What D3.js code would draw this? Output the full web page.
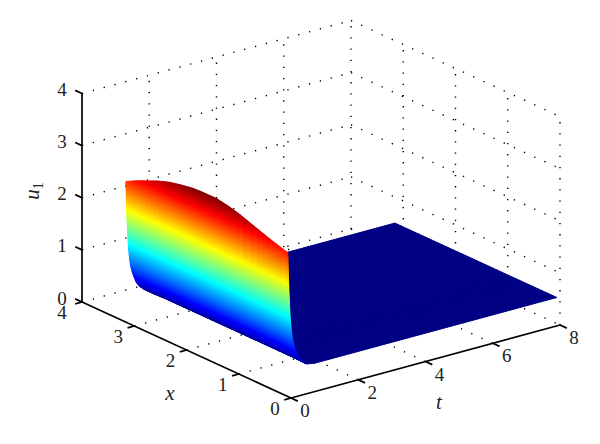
<!DOCTYPE html>
<html>
<head>
<meta charset="utf-8">
<script src="https://cdn.jsdelivr.net/npm/d3@7"></script>
<style>
body { margin: 0; background: #fff; }
text { font-family: "Liberation Serif", serif; font-size: 19px; fill: #222; }
</style>
</head>
<body>
<div id="chart"></div>
<script>
var xTicks = [0, 1, 2, 3, 4];
var tTicks = [0, 2, 4, 6, 8];
var uTicks = [0, 1, 2, 3, 4];

// surface, one row per xGrid value, one column per tGrid value
var tGrid = [0, 0.02, 0.04, 0.07, 0.1, 0.14, 0.2, 0.3, 0.4, 0.55, 0.8, 8];
var xGrid = [0.06, 0.33, 0.59, 0.98, 1.2, 1.42, 1.65, 1.87, 2.1, 2.32, 2.55, 2.77, 2.97, 3.16];
var uGrid = [
  [2.76, 2.22, 1.90, 1.49, 1.27, 1.07, 0.91, 0.73, 0.62, 0.53, 0.5, 0.5],
  [2.84, 2.28, 1.95, 1.53, 1.30, 1.09, 0.92, 0.73, 0.63, 0.54, 0.5, 0.5],
  [2.93, 2.35, 2.01, 1.57, 1.33, 1.11, 0.94, 0.74, 0.63, 0.54, 0.5, 0.5],
  [3.07, 2.45, 2.09, 1.63, 1.37, 1.14, 0.96, 0.76, 0.64, 0.54, 0.5, 0.5],
  [3.13, 2.50, 2.13, 1.66, 1.39, 1.16, 0.97, 0.76, 0.64, 0.54, 0.5, 0.5],
  [3.17, 2.53, 2.16, 1.67, 1.41, 1.17, 0.98, 0.77, 0.65, 0.54, 0.5, 0.5],
  [3.17, 2.53, 2.16, 1.67, 1.41, 1.17, 0.98, 0.77, 0.65, 0.54, 0.5, 0.5],
  [3.16, 2.52, 2.15, 1.67, 1.40, 1.17, 0.98, 0.77, 0.65, 0.54, 0.5, 0.5],
  [3.12, 2.49, 2.12, 1.65, 1.39, 1.16, 0.97, 0.76, 0.64, 0.54, 0.5, 0.5],
  [3.07, 2.45, 2.09, 1.63, 1.37, 1.14, 0.96, 0.76, 0.64, 0.54, 0.5, 0.5],
  [2.99, 2.39, 2.04, 1.60, 1.35, 1.12, 0.95, 0.75, 0.64, 0.54, 0.5, 0.5],
  [2.89, 2.32, 1.98, 1.55, 1.31, 1.10, 0.93, 0.74, 0.63, 0.54, 0.5, 0.5],
  [2.80, 2.25, 1.93, 1.51, 1.28, 1.08, 0.91, 0.73, 0.63, 0.53, 0.5, 0.5],
  [2.70, 2.17, 1.86, 1.47, 1.25, 1.05, 0.90, 0.72, 0.62, 0.53, 0.5, 0.5]
];

var width = 600;
var height = 444;

var svg = d3.select("#chart").append("svg")
    .attr("width", width).attr("height", height)
    .style("display", "block");

// oblique projection: each data axis moves the screen point along its own direction
var xToPx = d3.scaleLinear().domain([0, 4]).range([291, 82]);
var xToPy = d3.scaleLinear().domain([0, 4]).range([398, 302]);
var tToPx = d3.scaleLinear().domain([0, 8]).range([0, 269]);
var tToPy = d3.scaleLinear().domain([0, 8]).range([0, -73]);
var uToPy = d3.scaleLinear().domain([0, 4]).range([0, -208.5]);

function project(x, t, u) {
  return [xToPx(x) + tToPx(t), xToPy(x) + tToPy(t) + uToPy(u)];
}

var line = d3.line();

// MATLAB jet
var jet = d3.scaleLinear()
    .domain([0, 1 / 8, 3 / 8, 5 / 8, 7 / 8, 1])
    .range(["#000084", "#0000ff", "#00ffff", "#ffff00", "#ff0000", "#800000"])
    .clamp(true);
var colorOf = d3.scaleLinear().domain([0.5, 3.17]).range([0, 1]);

// dotted grid on the floor and the two back walls
function gridLine(a, b) {
  svg.append("path")
      .attr("d", line([project(a[0], a[1], a[2]), project(b[0], b[1], b[2])]))
      .attr("fill", "none")
      .attr("stroke", "#000")
      .attr("stroke-width", 1.4)
      .attr("stroke-dasharray", "1.3 9.9");
}

xTicks.slice(1, -1).forEach(function(x) {
  gridLine([x, 0, 0], [x, 8, 0]);
});
tTicks.slice(1, -1).forEach(function(t) {
  gridLine([0, t, 0], [4, t, 0]);
});
uTicks.forEach(function(u) {
  gridLine([4, 0, u], [4, 8, u]);
  gridLine([4, 8, u], [0, 8, u]);
});
tTicks.slice(1).forEach(function(t) {
  gridLine([4, t, 0], [4, t, 4]);
});
xTicks.slice(0, -1).forEach(function(x) {
  gridLine([x, 8, 0], [x, 8, 4]);
});

// interpolated shading: far cells first, each grid cell split into small quads
var surface = svg.append("g");
var xSub = 3;
for (var j = tGrid.length - 2; j >= 0; j--) {
  for (var i = xGrid.length - 2; i >= 0; i--) {
    var drop = Math.abs(uGrid[i][j] - uGrid[i][j + 1]);
    var tSub = Math.max(1, Math.ceil(drop * 52 / 1.5));
    for (var m = tSub - 1; m >= 0; m--) {
      for (var n = xSub - 1; n >= 0; n--) {
        var corners = [[n, m], [n + 1, m], [n + 1, m + 1], [n, m + 1]].map(function(c) {
          var fx = c[0] / xSub, ft = c[1] / tSub;
          var near = d3.interpolateNumber(uGrid[i][j], uGrid[i + 1][j])(fx);
          var far = d3.interpolateNumber(uGrid[i][j + 1], uGrid[i + 1][j + 1])(fx);
          return [
            d3.interpolateNumber(xGrid[i], xGrid[i + 1])(fx),
            d3.interpolateNumber(tGrid[j], tGrid[j + 1])(ft),
            d3.interpolateNumber(near, far)(ft)
          ];
        });
        var col = jet(colorOf(d3.mean(corners, function(c) { return c[2]; })));
        surface.append("path")
            .attr("d", line(corners.map(function(c) { return project(c[0], c[1], c[2]); })) + "Z")
            .attr("fill", col)
            .attr("stroke", col)
            .attr("stroke-width", 1)
            .attr("stroke-linejoin", "round");
      }
    }
  }
}

// axes
function axisLine(a, b) {
  svg.append("path")
      .attr("d", line([a, b]))
      .attr("fill", "none")
      .attr("stroke", "#000")
      .attr("stroke-width", 1.7);
}

axisLine(project(4, 0, 0), project(4, 0, 4));
axisLine(project(4, 0, 0), project(0, 0, 0));
axisLine(project(0, 0, 0), project(0, 8, 0));

uTicks.forEach(function(u) {
  axisLine(project(4, 0, u), project(4.13, 0, u));
  var p = project(4, 0, u);
  svg.append("text").attr("x", p[0] - 20).attr("y", p[1] + 2.5)
      .attr("text-anchor", "middle").text(u);
});
xTicks.forEach(function(x) {
  axisLine(project(x, 0, 0), project(x, -0.2, 0));
  var p = project(x, 0, 0);
  svg.append("text").attr("x", p[0] - (x === 4 ? 20 : 16)).attr("y", p[1] + 17)
      .attr("text-anchor", "middle").text(x);
});
tTicks.forEach(function(t) {
  axisLine(project(0, t, 0), project(-0.13, t, 0));
  var p = project(0, t, 0);
  svg.append("text").attr("x", p[0] + 14).attr("y", p[1] + 19)
      .attr("text-anchor", "middle").text(t);
});

svg.append("text").attr("x", 170).attr("y", 400)
    .attr("text-anchor", "middle").style("font-style", "italic").style("font-size", "21px").text("x");
svg.append("text").attr("x", 439).attr("y", 409)
    .attr("text-anchor", "middle").style("font-style", "italic").style("font-size", "21px").text("t");

var uLabel = svg.append("text")
    .attr("transform", "translate(39,191) rotate(-90)")
    .attr("text-anchor", "middle");
uLabel.append("tspan").style("font-style", "italic").style("font-size", "21px").text("u");
uLabel.append("tspan").attr("dy", 4).style("font-size", "14px").text("1");
</script>
</body>
</html>
